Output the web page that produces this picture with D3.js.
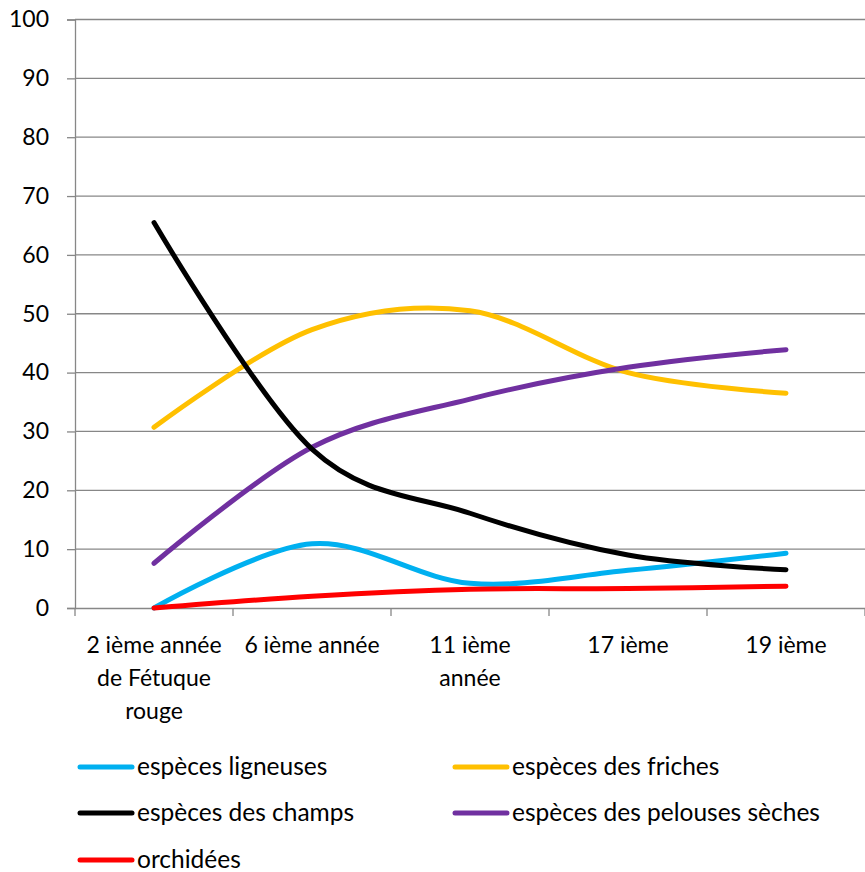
<!DOCTYPE html>
<html><head><meta charset="utf-8">
<script src="https://cdn.jsdelivr.net/npm/d3@7"></script>
<style>
html,body{margin:0;padding:0;background:#fff;}
text{font-family:Lato,"Open Sans",sans-serif;fill:#000;}
</style></head>
<body><svg id="c" width="865" height="872"></svg>
<script>
const categories = ["2 ième année de Fétuque rouge", "6 ième année", "11 ième année", "17 ième", "19 ième"];
const tickLabelLines = [["2 ième année", "de Fétuque", "rouge"], ["6 ième année"], ["11 ième", "année"], ["17 ième"], ["19 ième"]];
const yTicks = [0, 10, 20, 30, 40, 50, 60, 70, 80, 90, 100];
const seriesNames = ["espèces ligneuses", "espèces des friches", "espèces des champs", "espèces des pelouses sèches", "orchidées"];
const seriesColors = ["#00b0f0", "#ffc000", "#000000", "#7030a0", "#ff0000"];
const ligneuses = [0, 10.9, 4.2, 6.4, 9.3];
const friches = [30.7, 47.3, 50.5, 40.0, 36.5];
const champs = [65.5, 27.0, 16.1, 9.0, 6.5];
const pelouses = [7.6, 27.3, 35.5, 40.9, 43.9];
const orchidees = [0, 2.0, 3.2, 3.3, 3.7];
const seriesValues = [ligneuses, friches, champs, pelouses, orchidees];

(function () {
const svg = d3.select("#c");
const pL = 75, pR = 865, pT = 19.5, pB = 608;
const x = d3.scaleBand().domain(categories).range([pL, pR]);
const y = d3.scaleLinear().domain([0, 100]).range([pB, pT]);
const grid = "#878787";
const axisFont = 23, legendFont = 24.5;

// gridlines
svg.append("g").selectAll("line").data(yTicks.filter(d => d > 0)).join("line")
  .attr("x1", pL).attr("x2", pR)
  .attr("y1", d => y(d)).attr("y2", d => y(d))
  .attr("stroke", grid).attr("stroke-width", 1.3);

// y axis
const yAxis = svg.append("g").attr("transform", `translate(${pL},0)`)
  .call(d3.axisLeft(y).tickValues(yTicks).tickSize(8).tickPadding(18));
yAxis.select(".domain").attr("stroke", grid).attr("stroke-width", 1.3);
yAxis.selectAll(".tick line").attr("stroke", grid).attr("stroke-width", 1.3);
yAxis.selectAll(".tick text").attr("font-size", axisFont).attr("font-family", "Lato").attr("fill", "#000");

// x axis
const xAxis = svg.append("g").attr("transform", `translate(0,${pB})`)
  .call(d3.axisBottom(x).tickSize(0).tickFormat(""));
xAxis.select(".domain").attr("stroke", grid).attr("stroke-width", 1.3);
const tickPos = categories.map(c => x(c)).concat([pR]);
svg.append("g").selectAll("line").data(tickPos).join("line")
  .attr("x1", d => d).attr("x2", d => d).attr("y1", pB).attr("y2", pB + 8)
  .attr("stroke", grid).attr("stroke-width", 1.3);
categories.forEach((c, i) => {
  const cx = x(c) + x.bandwidth() / 2;
  const t = svg.append("text").attr("text-anchor", "middle").attr("font-size", axisFont).attr("x", cx);
  tickLabelLines[i].forEach((ln, j) => {
    t.append("tspan").attr("x", cx).attr("y", 653 + j * 33).text(ln);
  });
});

// lines
const line = d3.line()
  .x((d, i) => x(categories[i]) + x.bandwidth() / 2)
  .y(d => y(d))
  .curve(d3.curveCardinal.tension(0));
const order = [1, 3, 0, 2, 4];
svg.append("g").selectAll("path").data(order).join("path")
  .attr("d", k => line(seriesValues[k]))
  .attr("fill", "none").attr("stroke", k => seriesColors[k])
  .attr("stroke-width", 5).attr("stroke-linecap", "round").attr("stroke-linejoin", "round");

// legend
const legPos = [[80, 767], [455, 767], [80, 813], [455, 813], [80, 860]];
seriesNames.forEach((n, i) => {
  const [lx, ly] = legPos[i];
  svg.append("line").attr("x1", lx).attr("x2", lx + 52).attr("y1", ly).attr("y2", ly)
    .attr("stroke", seriesColors[i]).attr("stroke-width", 5).attr("stroke-linecap", "round");
  svg.append("text").attr("x", lx + 57).attr("y", ly + 8).attr("font-size", legendFont).text(n);
});
})();
</script></body></html>
